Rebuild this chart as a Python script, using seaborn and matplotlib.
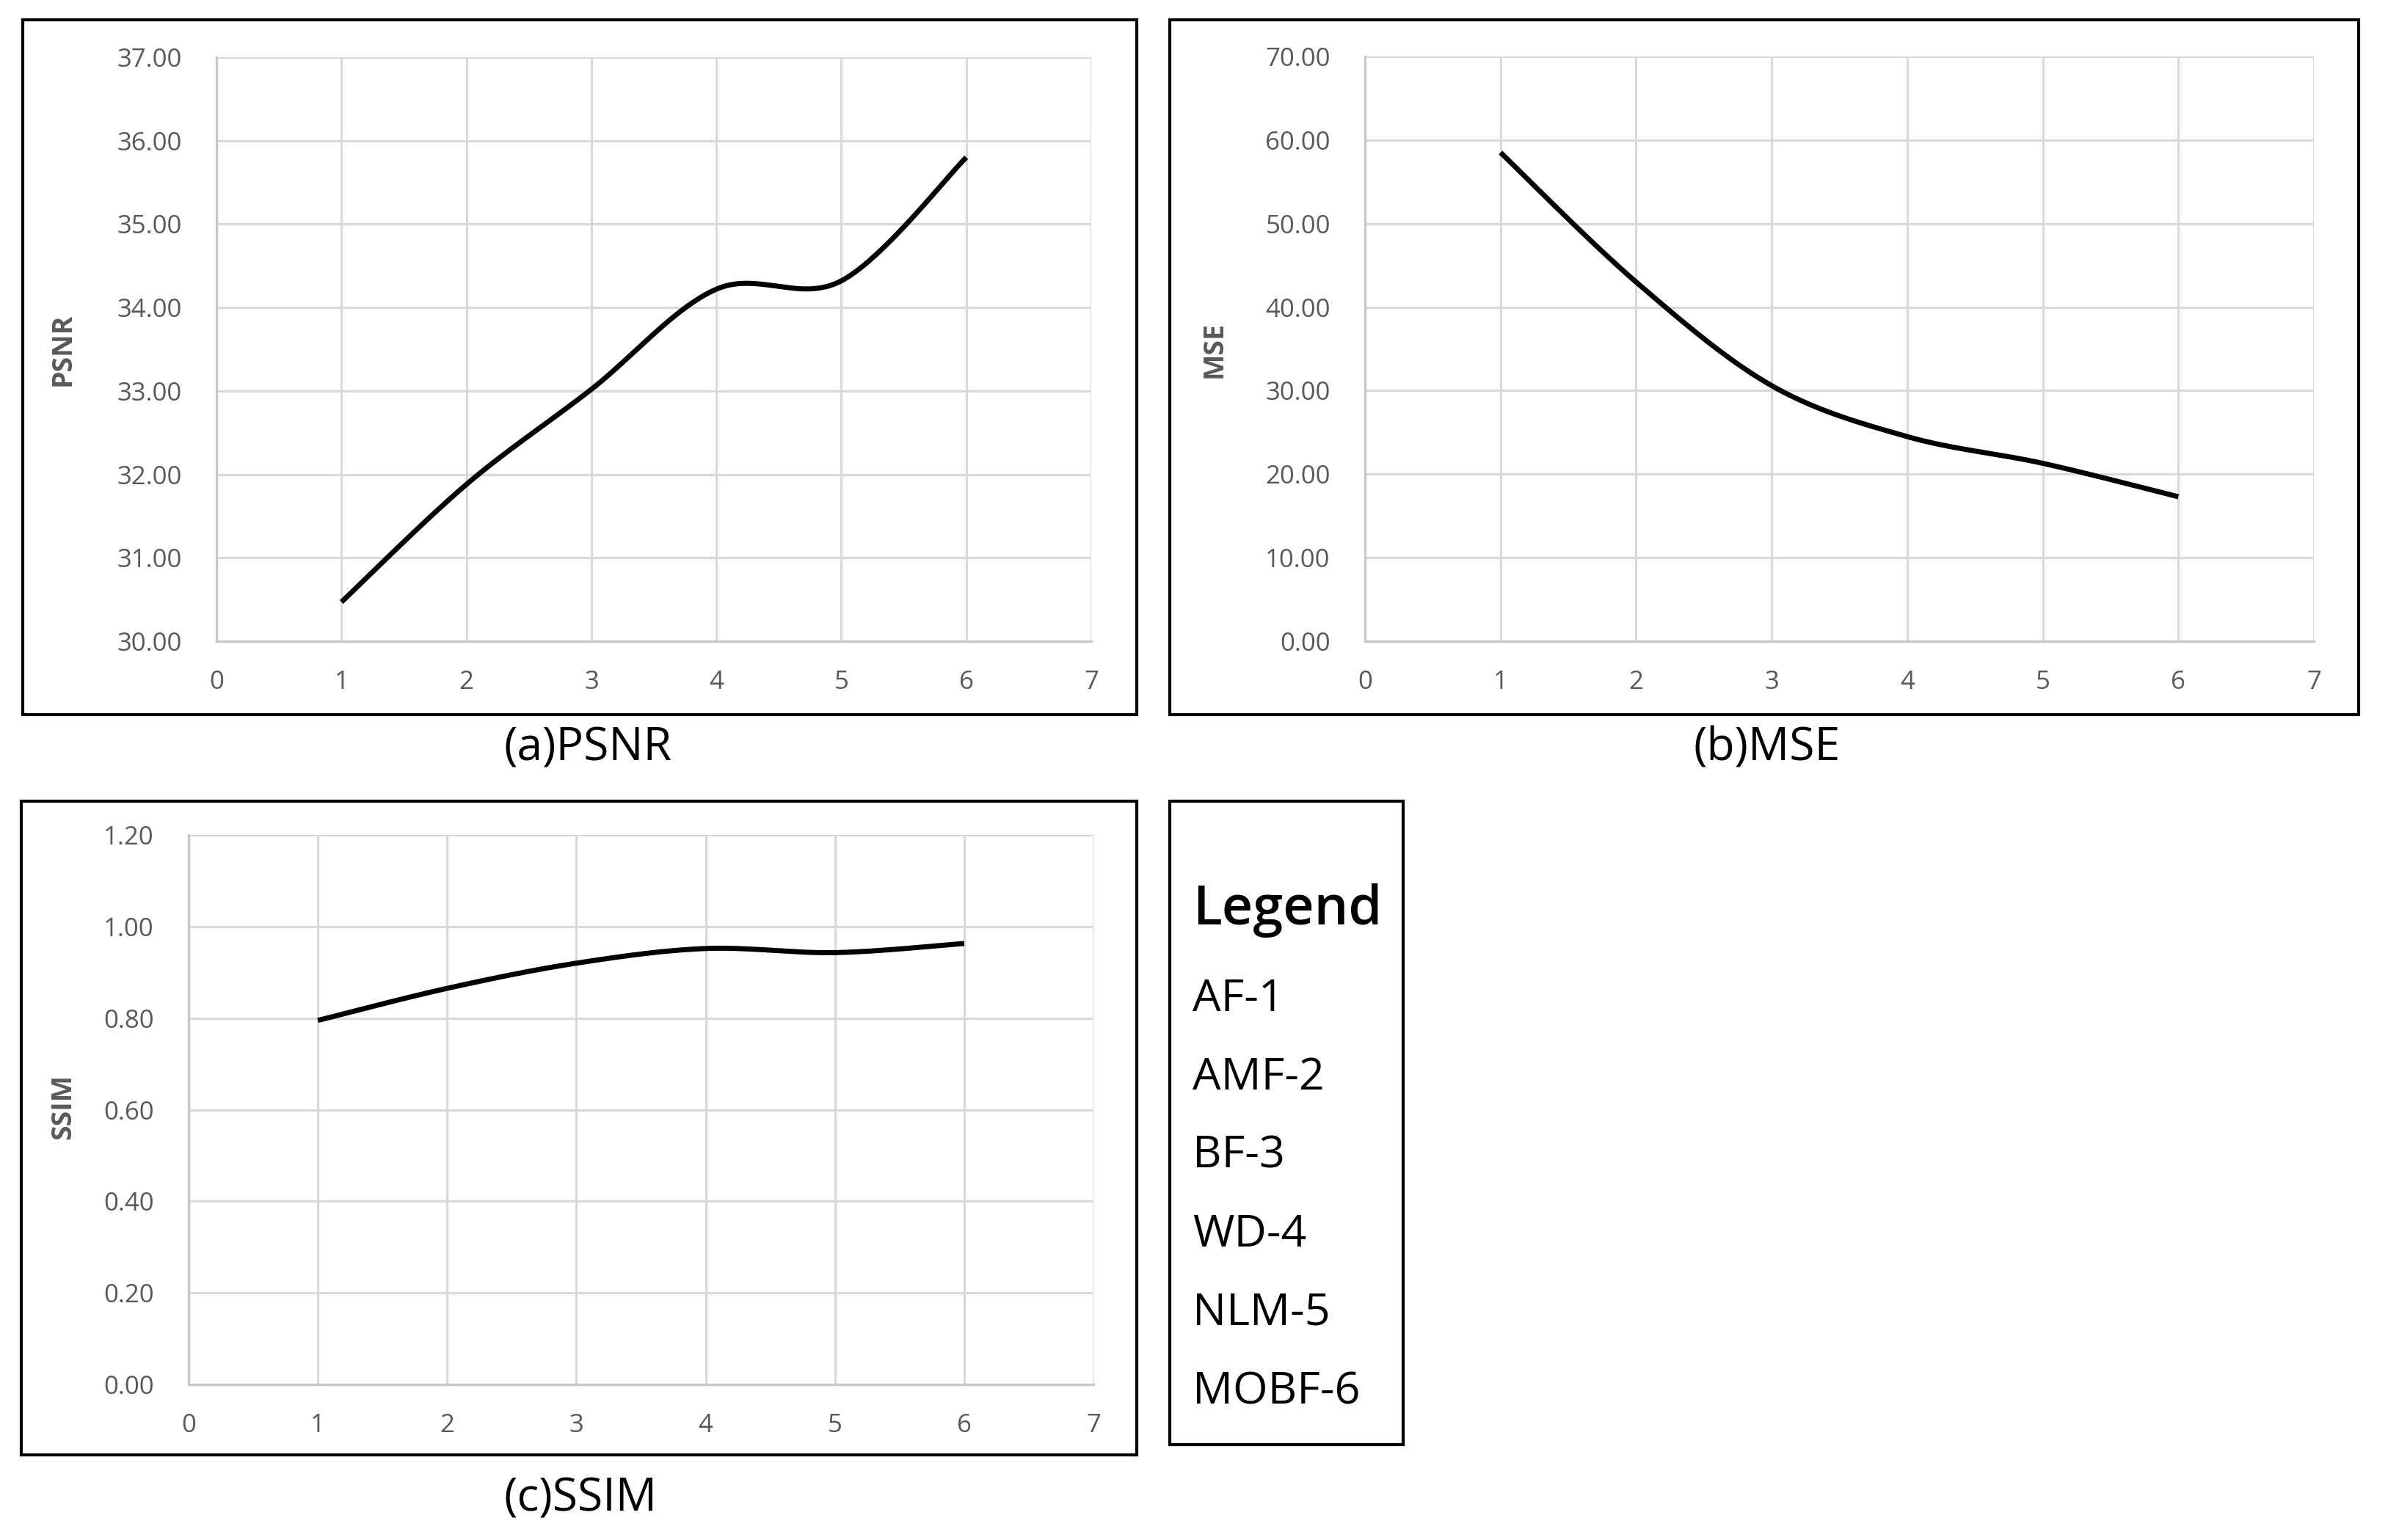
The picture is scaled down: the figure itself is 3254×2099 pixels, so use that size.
"""
Denoising filter comparison: PSNR / MSE / SSIM per method (Excel-style smoothed lines)
"""

import numpy as np
import matplotlib.pyplot as plt
import seaborn as sns
from matplotlib.patches import Rectangle

sns.set_style('white')
plt.rcParams['font.family'] = ['Open Sans', 'DejaVu Sans']

# ---- data ----
method_idx = [1, 2, 3, 4, 5, 6]
psnr = [30.47, 31.88, 33.02, 34.22, 34.32, 35.80]
mse = [58.5, 43.0, 30.6, 24.5, 21.3, 17.3]
ssim = [0.795, 0.865, 0.920, 0.952, 0.943, 0.963]
legend_items = ['AF-1', 'AMF-2', 'BF-3', 'WD-4', 'NLM-5', 'MOBF-6']

W, H = 3255, 2099
GRID = '#d9d9d9'
TXT = '#595959'


def excel_smooth(x, y, n=40):
    """Catmull-Rom style bezier like Excel's 'smoothed line'."""
    x = np.asarray(x, float)
    y = np.asarray(y, float)
    px = np.concatenate([[x[0]], x, [x[-1]]])
    py = np.concatenate([[y[0]], y, [y[-1]]])
    t = np.linspace(0, 1, n)
    xs, ys = [], []
    for i in range(1, len(x)):
        p0 = np.array([px[i], py[i]])
        p3 = np.array([px[i + 1], py[i + 1]])
        c1 = p0 + (p3 - np.array([px[i - 1], py[i - 1]])) / 6
        c2 = p3 - (np.array([px[i + 2], py[i + 2]]) - p0) / 6
        b = ((1 - t) ** 3)[:, None] * p0 + (3 * (1 - t) ** 2 * t)[:, None] * c1 \
            + (3 * (1 - t) * t ** 2)[:, None] * c2 + (t ** 3)[:, None] * p3
        xs.append(b[:, 0])
        ys.append(b[:, 1])
    return np.concatenate(xs), np.concatenate(ys)


def px_rect(l, t, r, b):
    return [l / W, 1 - b / H, (r - l) / W, (b - t) / H]


fig = plt.figure(figsize=(W / 100, H / 100), dpi=100)


def panel(rect, values, ylim, ystep, ylabel, label_xy, caption, cap_xy, box):
    ax = fig.add_axes(px_rect(*rect))
    xs, ys = excel_smooth(method_idx, values)
    sns.lineplot(x=xs, y=ys, ax=ax, color='black', lw=5, sort=False,
                 estimator=None, solid_capstyle='butt')
    ax.set_xlim(0, 7)
    ax.set_ylim(*ylim)
    ax.set_xticks(range(0, 8))
    ax.set_yticks(np.arange(ylim[0], ylim[1] + ystep / 2, ystep))
    ax.set_yticklabels([f'{v:.2f}' for v in ax.get_yticks()])
    ax.grid(True, color=GRID, lw=2.2)
    ax.set_axisbelow(True)
    for s in ['top', 'right']:
        ax.spines[s].set_visible(False)
    for s in ['left', 'bottom']:
        ax.spines[s].set_color('#c8c8c8')
        ax.spines[s].set_linewidth(2.4)
    ax.tick_params(axis='y', length=0, pad=34, labelsize=25, labelcolor=TXT)
    ax.tick_params(axis='x', length=0, pad=28, labelsize=25, labelcolor=TXT)
    ax.set_xlabel('')
    ax.set_ylabel('')
    fig.text(label_xy[0] / W, 1 - label_xy[1] / H, ylabel, rotation=90,
             ha='center', va='center', fontsize=27, fontweight='bold', color=TXT)
    fig.text(cap_xy[0] / W, 1 - cap_xy[1] / H, caption, ha='center',
             va='center', fontsize=45, color='black')
    l, t, r, b = box
    fig.patches.append(Rectangle((l / W, 1 - b / H), (r - l) / W, (b - t) / H,
                                 transform=fig.transFigure, fill=False,
                                 edgecolor='black', lw=3))
    return ax


panel((295, 78, 1487, 874), psnr, (30, 37), 1, 'PSNR', (86, 476),
      '(a)PSNR', (801, 1020), (31, 27, 1549, 974))
panel((1860, 77, 3153, 874), mse, (0, 70), 10, 'MSE', (1655, 476),
      '(b)MSE', (2408, 1020), (1594, 27, 3214, 974))
panel((257, 1138, 1490, 1887), ssim, (0, 1.2), 0.2, 'SSIM', (86, 1508),
      '(c)SSIM', (791, 2043), (29, 1092, 1549, 1983))

# legend panel (text only, framed)
fig.patches.append(Rectangle((1594 / W, 1 - 1969 / H), (1912 - 1594) / W,
                             (1969 - 1092) / H, transform=fig.transFigure,
                             fill=False, edgecolor='black', lw=3))
fig.text(1625 / W, 1 - 1260 / H, 'Legend', ha='left', va='baseline',
         fontsize=53, fontweight='semibold', color='black')
for i, item in enumerate(legend_items):
    fig.text(1625 / W, 1 - (1378 + i * 107) / H, item, ha='left',
             va='baseline', fontsize=44, color='black')

fig.savefig('out.png', dpi=100, facecolor='white')
